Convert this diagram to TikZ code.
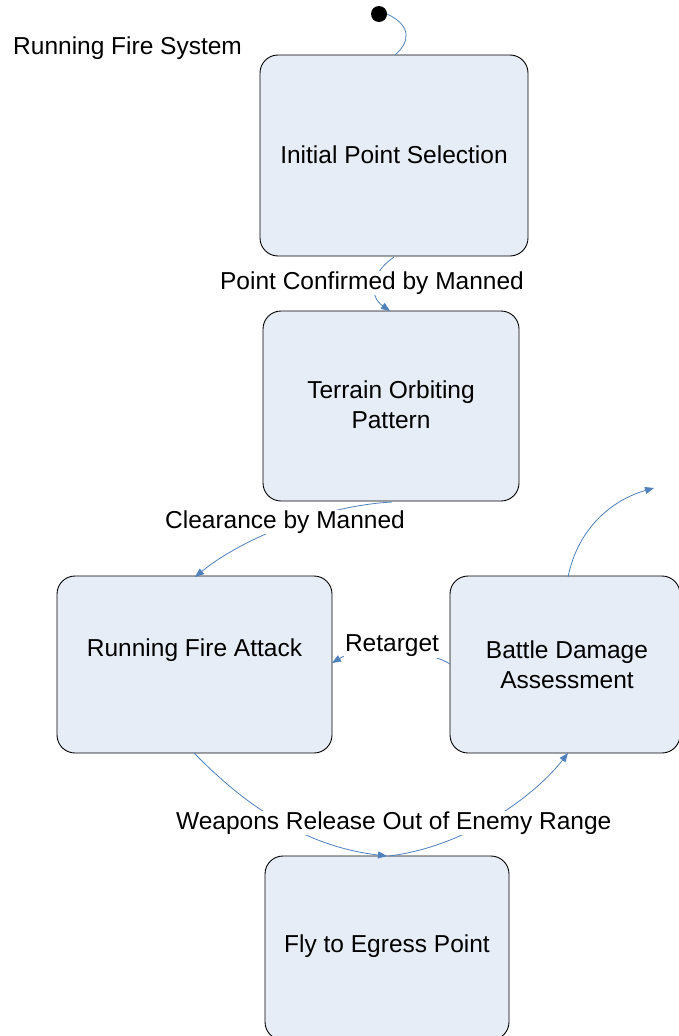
\documentclass[tikz,border=0pt]{standalone}
\usepackage{fontspec}
\setmainfont{Liberation Sans}
\usetikzlibrary{arrows.meta}
\definecolor{boxfill}{RGB}{231,237,247}
\definecolor{linkblue}{RGB}{79,129,189}
\begin{document}
\begin{tikzpicture}[x=1pt,y=-1pt,
  statebox/.style={draw=black, line width=0.9pt, fill=boxfill, rounded corners=18pt, inner sep=0pt, align=center, font=\fontsize{24.5}{30}\selectfont},
  boxtext/.style={inner sep=0pt, align=center, font=\fontsize{24.5}{30}\selectfont},
  lbl/.style={fill=white, inner sep=1pt, font=\fontsize{24.5}{30}\selectfont},
  link/.style={draw=linkblue, line width=0.8pt, -{Triangle[length=9pt,width=7pt]}},
  plain/.style={draw=linkblue, line width=0.8pt}]
\useasboundingbox (0,0) rectangle (678,1036);
\fill[white] (0,0) rectangle (678,1036);

% states
\node[statebox, minimum width=268pt, minimum height=201pt] (ips) at (394,155.5) {};
\node[boxtext] (ipstext) at (394,154.5) {Initial Point Selection};
\node[statebox, minimum width=256pt, minimum height=190pt] (top) at (391,406) {};
\node[boxtext] (toptext) at (391,405) {Terrain Orbiting\\Pattern};
\node[statebox, minimum width=275pt, minimum height=177pt] (rfa) at (194.5,664.5) {};
\node[boxtext] (rfatext) at (194.5,650) {Running Fire Attack};
\node[statebox, minimum width=230pt, minimum height=177pt] (bda) at (565,664.5) {};
\node[boxtext] (bdatext) at (567,665) {Battle Damage\\Assessment};
\node[statebox, minimum width=244pt, minimum height=184pt] (fly) at (387,948) {};
\node[boxtext] (flytext) at (387,946) {Fly to Egress Point};

% initial state
\node[circle, fill=black, minimum size=16pt, inner sep=0pt] (init) at (379,14) {};
\coordinate (ipstop) at (395,55);
\draw[plain] (init.east) .. controls (412,26) and (410,42) .. (ipstop);

% system label
\node[anchor=west, inner sep=0pt, font=\fontsize{24.5}{30}\selectfont] (sys) at (13,48.5) {Running Fire System};

% transitions
\coordinate (a1) at (394,257);
\coordinate (a2) at (390,311);
\draw[link] (a1) .. controls (368,275) and (370,297) .. (a2);
\node[lbl] (l1) at (372,283) {Point Confirmed by Manned};

\coordinate (b1) at (392,502);
\coordinate (b2) at (195,577);
\draw[link] (b1) .. controls (320,506) and (240,540) .. (b2);
\node[lbl] (l2) at (285,522) {Clearance by Manned};

\coordinate (c1) at (450,664);
\coordinate (c2) at (332,663);
\draw[link] (c1) .. controls (420,646) and (360,646) .. (c2);
\node[lbl] (l3) at (392,646) {Retarget};

\coordinate (d1) at (568,577);
\coordinate (d2) at (654,488);
\draw[link] (d1) .. controls (578,528) and (612,500) .. (d2);

\coordinate (e1) at (194,753);
\coordinate (e2) at (387,856);
\draw[link] (e1) .. controls (240,800) and (300,846) .. (e2);
\node[lbl] (l4) at (276,823) {Weapons Release};

\coordinate (f1) at (389,856);
\coordinate (f2) at (568,753);
\draw[link] (f1) .. controls (470,846) and (538,792) .. (f2);
\node[lbl] (l5) at (497,823) {Out of Enemy Range};
\end{tikzpicture}
\end{document}
